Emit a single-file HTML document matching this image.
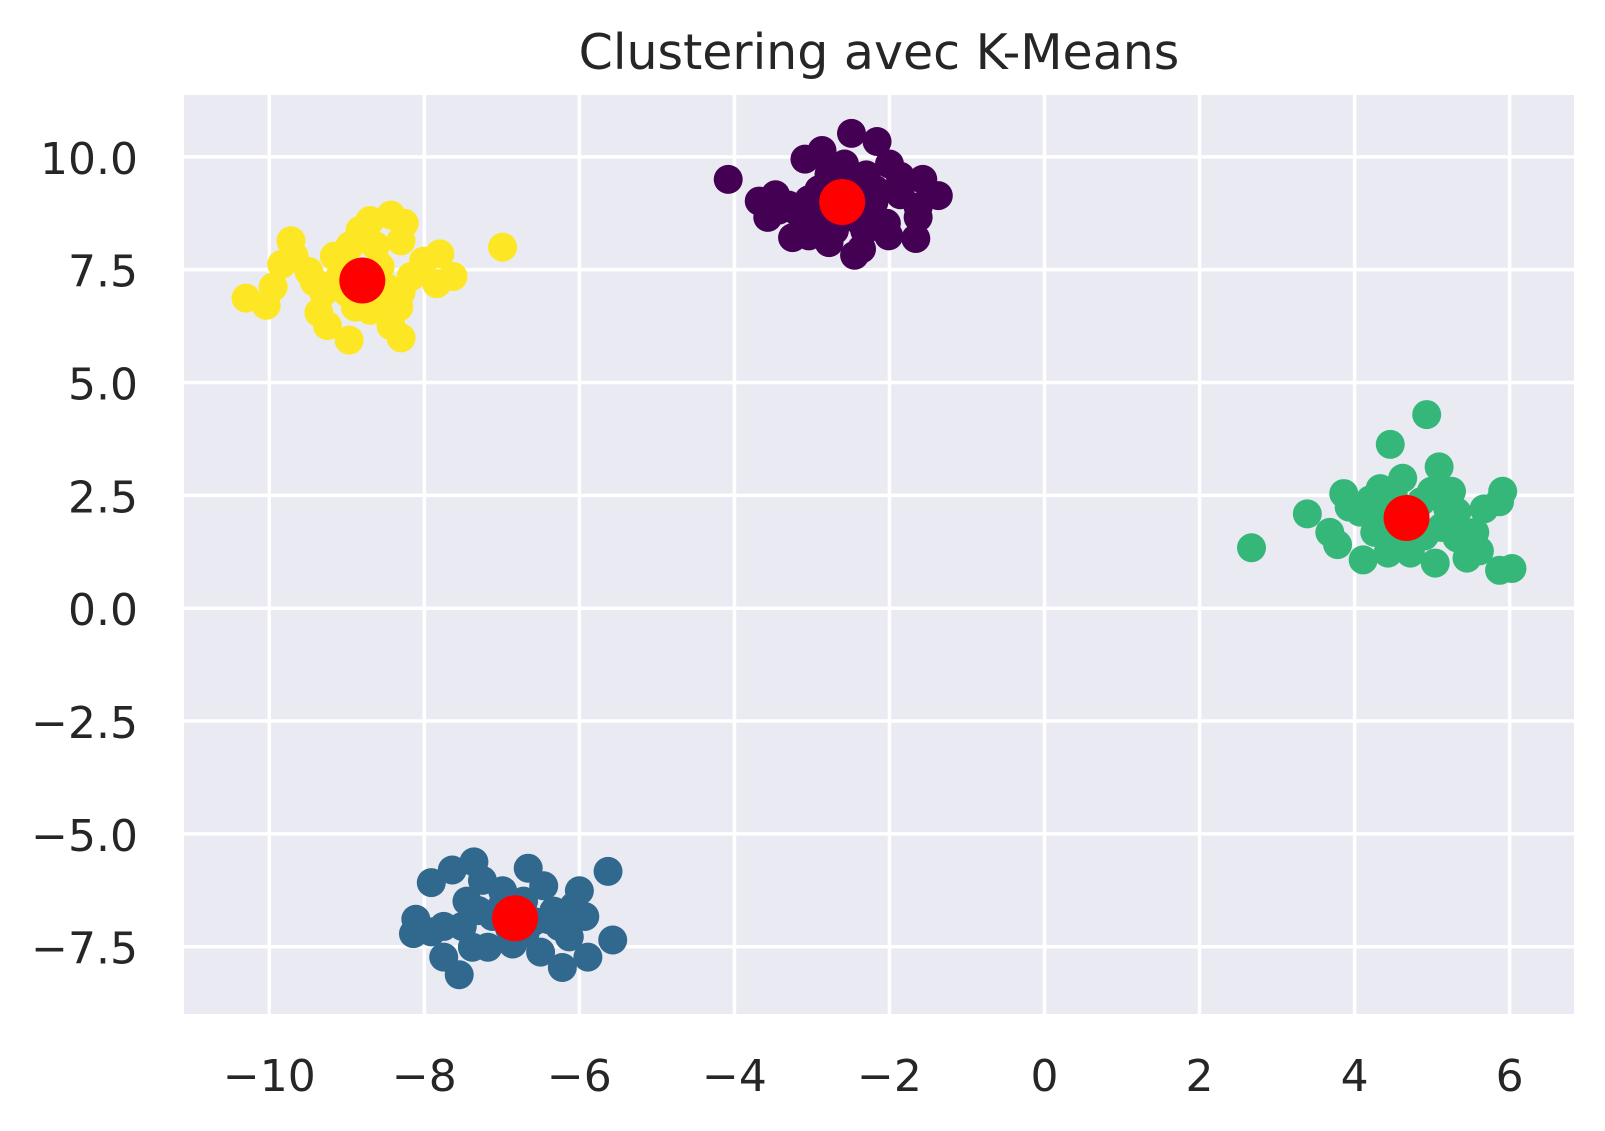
<!DOCTYPE html>
<html><head><meta charset="utf-8">
<style>
html,body{margin:0;padding:0;background:#fff;}
svg{display:block;font-family:"DejaVu Sans","Liberation Sans",sans-serif;}
</style></head>
<body>
<svg id="chart" width="1605" height="1131" viewBox="0 0 1605 1131" xmlns="http://www.w3.org/2000/svg">
<text x="879" y="69" text-anchor="middle" font-size="49" fill="#262626">Clustering avec K-Means</text>
<rect x="184" y="95" width="1390" height="919" fill="#eaeaf2"/>
<g id="grid"></g><g id="ticks"></g><g id="points"></g><g id="centroids"></g>
</svg>
<script>
const xTicks=[-10,-8,-6,-4,-2,0,2,4,6];
const yTicks=[10,7.5,5,2.5,0,-2.5,-5,-7.5];
const yTickLabels=["10.0","7.5","5.0","2.5","0.0","\u22122.5","\u22125.0","\u22127.5"];
const clusterColors=["#440154","#31688e","#35b779","#fde725"];
const c0x=[-4.08,-3.68,-3.47,-3.57,-3.30,-3.25,-3.04,-2.87,-3.09,-2.78,-2.49,-2.16,-2.00,-1.86,-1.57,-1.37,-1.63,-1.63,-2.04,-2.01,-1.66,-2.36,-2.45,-2.64,-2.91,-2.38,-2.25,-2.78,-3.11,-3.43,-2.58,-2.18,-1.86,-2.32,-2.71,-3.04,-2.51,-2.8,-2.4,-3.2,-2.2,-2.6,-2.9,-2.3];
const c0y=[9.50,9.02,9.16,8.66,8.93,8.21,8.25,10.14,9.95,8.10,10.52,10.34,9.84,9.57,9.50,9.14,8.89,8.66,8.53,8.25,8.19,7.96,7.82,8.71,9.27,9.39,8.82,9.61,8.59,8.82,9.84,9.27,9.16,8.37,8.37,9.05,9.05,8.6,8.6,8.8,9.0,9.5,8.9,9.6];
const c1x=[-8.14,-8.11,-7.91,-7.75,-7.64,-7.75,-7.55,-7.36,-7.45,-7.18,-6.99,-6.86,-6.66,-6.50,-6.46,-6.22,-6.13,-6.07,-6.00,-5.93,-5.89,-5.63,-5.57,-7.51,-7.12,-6.59,-6.33,-7.38,-6.72,-6.26,-7.25,-7.91,-7.0,-6.7,-6.4,-7.3,-6.9];
const c1y=[-7.21,-6.89,-6.08,-7.05,-5.80,-7.73,-8.12,-5.62,-6.49,-7.51,-6.26,-7.44,-5.76,-7.62,-6.15,-7.96,-7.28,-6.60,-6.26,-6.83,-7.73,-5.83,-7.35,-7.05,-6.83,-6.94,-6.71,-7.51,-6.49,-7.05,-6.03,-7.17,-6.6,-7.2,-6.9,-6.7,-7.1];
const c2x=[2.67,3.39,3.68,3.78,3.86,4.11,4.33,4.46,4.43,4.62,4.93,5.09,5.25,5.04,5.32,5.45,5.61,5.67,5.87,5.91,5.55,5.87,6.03,4.07,4.26,4.86,5.12,4.59,4.72,3.93,4.99,5.32,4.4,4.9,4.2,5.2,4.6,4.5];
const c2y=[1.34,2.09,1.68,1.41,2.54,1.07,2.65,3.63,1.22,2.88,4.29,3.13,2.59,1.00,1.56,1.11,1.27,2.20,2.36,2.59,1.68,0.84,0.88,2.13,1.68,2.36,1.79,1.45,1.22,2.24,2.59,2.13,2.1,1.6,2.4,2.2,1.5,2.5];
const c3x=[-10.30,-10.04,-9.95,-9.84,-9.72,-9.68,-9.42,-9.36,-9.25,-9.16,-8.97,-8.89,-8.83,-8.70,-8.43,-8.26,-8.30,-8.33,-8.43,-8.30,-8.01,-7.80,-7.84,-7.63,-6.99,-8.17,-8.57,-9.09,-8.70,-8.96,-8.50,-9.49,-8.04,-8.63,-8.89,-8.5,-9.0,-8.3,-8.7,-9.3];
const c3y=[6.87,6.71,7.12,7.62,8.14,7.80,7.23,6.55,6.26,7.80,5.94,6.67,8.37,8.59,8.71,8.53,8.14,6.67,6.26,5.99,7.69,7.85,7.19,7.35,8.00,7.35,7.57,7.35,6.89,8.03,7.12,7.46,7.46,8.03,7.46,6.9,7.0,7.0,6.6,7.0];
const centerX=[-2.61,-6.83,4.67,-8.80];
const centerY=[9.00,-6.87,2.00,7.26];

const NS="http://www.w3.org/2000/svg";
const X0=184,X1=1574,Y0=95,Y1=1014;
const xMin=-11.10,xMax=6.83,yMin=-8.99,yMax=11.37;
const sx=v=>X0+(v-xMin)/(xMax-xMin)*(X1-X0);
const sy=v=>Y1-(v-yMin)/(yMax-yMin)*(Y1-Y0);
function mk(tag,attrs,parent){const e=document.createElementNS(NS,tag);for(const k in attrs)e.setAttribute(k,attrs[k]);parent.appendChild(e);return e;}
const grid=document.getElementById('grid'),ticks=document.getElementById('ticks');
xTicks.forEach(v=>{
  const l=mk('line',{x1:sx(v),x2:sx(v),y1:Y0,y2:Y1,stroke:'#fff','stroke-width':3.5},grid);
  
  
  const t=mk('text',{x:sx(v),y:1091,'text-anchor':'middle','font-size':44,fill:'#262626'},ticks);
  t.textContent=(v<0?'\u2212':'')+Math.abs(v);
  
  
});
yTicks.forEach((v,i)=>{
  const l=mk('line',{x1:X0,x2:X1,y1:sy(v),y2:sy(v),stroke:'#fff','stroke-width':3.5},grid);
  
  
  const t=mk('text',{x:138,y:sy(v)+17,'text-anchor':'end','font-size':44,fill:'#262626'},ticks);
  t.textContent=yTickLabels[i];
  
  
});
const pts=document.getElementById('points');
[[c0x,c0y],[c1x,c1y],[c2x,c2y],[c3x,c3y]].forEach((c,k)=>{
  c[0].forEach((xv,i)=>{
    const p=mk('circle',{cx:sx(xv),cy:sy(c[1][i]),r:14.5,fill:clusterColors[k]},pts);
    
    
  });
});
const cg=document.getElementById('centroids');
centerX.forEach((xv,i)=>{
  const p=mk('circle',{cx:sx(xv),cy:sy(centerY[i]),r:23,fill:'#ff0000'},cg);
  
  
});
</script>
</body></html>
